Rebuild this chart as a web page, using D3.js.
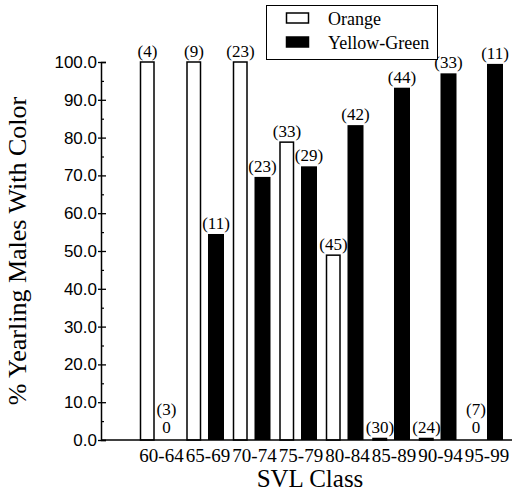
<!DOCTYPE html>
<html>
<head>
<meta charset="utf-8">
<script src="https://cdn.jsdelivr.net/npm/d3@7"></script>
<style>
  html, body { margin: 0; padding: 0; background: #fff; }
  svg { display: block; }
</style>
</head>
<body>
<script>
// ---- data ----
const categories = ['60-64', '65-69', '70-74', '75-79', '80-84', '85-89', '90-94', '95-99'];
const seriesNames = ['Orange', 'Yellow-Green'];
const orangePct = [100, 100, 100, 78.8, 48.9, 0.4, 0.4, 0];
const yellowGreenPct = [0, 54.5, 69.6, 72.4, 83.3, 93.2, 97.0, 99.5];
const orangeN = [4, 9, 23, 33, 45, 30, 24, 7];
const yellowGreenN = [3, 11, 23, 29, 42, 44, 33, 11];
const yTicks = [0, 10, 20, 30, 40, 50, 60, 70, 80, 90, 100];
const yMinorTicks = [5, 15, 25, 35, 45, 55, 65, 75, 85, 95];

const W = 514, H = 492;
const SERIF = "'Liberation Serif', 'Times New Roman', Tinos, serif";
const SANS = "'Liberation Sans', Arial, Helvetica, sans-serif";

const svg = d3.select('body').append('svg').attr('width', W).attr('height', H);

const y = d3.scaleLinear().domain([0, 100]).range([440, 62]);
const x0 = d3.scaleBand().domain(categories).range([140, 140 + 8 * 46.5]).padding(0);
const x1 = d3.scaleBand().domain(seriesNames).range([0, 37]).paddingInner(0.318).paddingOuter(0);

const rows = categories.map((c, i) => ({
  cat: c,
  vals: [
    { s: 'Orange', v: orangePct[i], n: orangeN[i] },
    { s: 'Yellow-Green', v: yellowGreenPct[i], n: yellowGreenN[i] }
  ]
}));

// bars
const g = svg.append('g');
const groups = g.selectAll('g.grp').data(rows).join('g')
  .attr('class', 'grp')
  .attr('transform', d => `translate(${x0(d.cat)},0)`);

groups.selectAll('rect').data(d => d.vals.filter(v => v.v > 0)).join('rect')
  .attr('x', d => d.s === 'Orange' ? x1(d.s) + 0.5 : x1(d.s) - 0.5)
  .attr('width', d => d.s === 'Orange' ? x1.bandwidth() - 1.5 : x1.bandwidth() + 1)
  .attr('y', d => y(d.v))
  .attr('height', d => y(0) - y(d.v))
  .attr('fill', d => d.s === 'Orange' ? '#fff' : '#000')
  .attr('stroke', '#000')
  .attr('stroke-width', d => d.s === 'Orange' ? 1.5 : 0);

// count labels
function label(sel, x, yy, txt) {
  sel.append('text').attr('x', x).attr('y', yy).attr('text-anchor', 'middle')
    .style('font-family', SERIF).style('font-size', '17px').attr('fill', '#000').text(txt);
}
groups.each(function (d) {
  const sel = d3.select(this);
  d.vals.forEach(v => {
    const cx = x1(v.s) + x1.bandwidth() / 2;
    if (v.v === 0) {
      const shift = v.s === 'Orange' ? 3 : -3;
      label(sel, cx + shift, y(0) - 7, '0');
      label(sel, cx + shift, y(0) - 25, `(${v.n})`);
    } else {
      label(sel, cx, y(v.v) - 5, `(${v.n})`);
    }
  });
});

// y axis
const yAxis = svg.append('g').attr('transform', 'translate(101,0)')
  .call(d3.axisLeft(y).tickValues(yTicks).tickFormat(d3.format('.1f')).tickSize(-5).tickPadding(4));
yAxis.select('.domain').attr('stroke', '#000').attr('stroke-width', 1.5);
yAxis.selectAll('.tick line').attr('x1', -3).attr('stroke', '#000').attr('stroke-width', 1.3);
yAxis.selectAll('.tick text').style('font-family', SANS).style('font-size', '17px').attr('fill', '#000');

const yMinor = svg.append('g').attr('transform', 'translate(101,0)')
  .call(d3.axisLeft(y).tickValues(yMinorTicks).tickFormat('').tickSize(-3));
yMinor.select('.domain').remove();
yMinor.selectAll('.tick line').attr('stroke', '#000').attr('stroke-width', 1.2);

// x axis
const xAxis = svg.append('g').attr('transform', 'translate(-1.75,440)')
  .call(d3.axisBottom(x0).tickSize(0).tickPadding(9));
xAxis.select('.domain').remove();
xAxis.selectAll('.tick text').style('font-family', SERIF).style('font-size', '19px').attr('fill', '#000');
svg.append('line').attr('x1', 101).attr('x2', 512).attr('y1', y(0)).attr('y2', y(0))
  .attr('stroke', '#000').attr('stroke-width', 1.5);

// axis titles
svg.append('text').attr('x', 310).attr('y', 487).attr('text-anchor', 'middle')
  .style('font-family', SERIF).style('font-size', '25px').text('SVL Class');
svg.append('text').attr('transform', 'translate(26,251) rotate(-90)').attr('text-anchor', 'middle')
  .style('font-family', SERIF).style('font-size', '26px').text('% Yearling Males With Color');

// legend
const lg = svg.append('g');
lg.append('rect').attr('x', 266.5).attr('y', 5.5).attr('width', 171).attr('height', 54)
  .attr('fill', '#fff').attr('stroke', '#000').attr('stroke-width', 1);
seriesNames.forEach((s, i) => {
  lg.append('rect').attr('x', 286.5).attr('y', 13 + i * 24).attr('width', 22).attr('height', 10)
    .attr('fill', s === 'Orange' ? '#fff' : '#000').attr('stroke', '#000').attr('stroke-width', 1.5);
  lg.append('text').attr('x', 328).attr('y', 25 + i * 23.5)
    .style('font-family', SERIF).style('font-size', '18px').text(s);
});
</script>
</body>
</html>
